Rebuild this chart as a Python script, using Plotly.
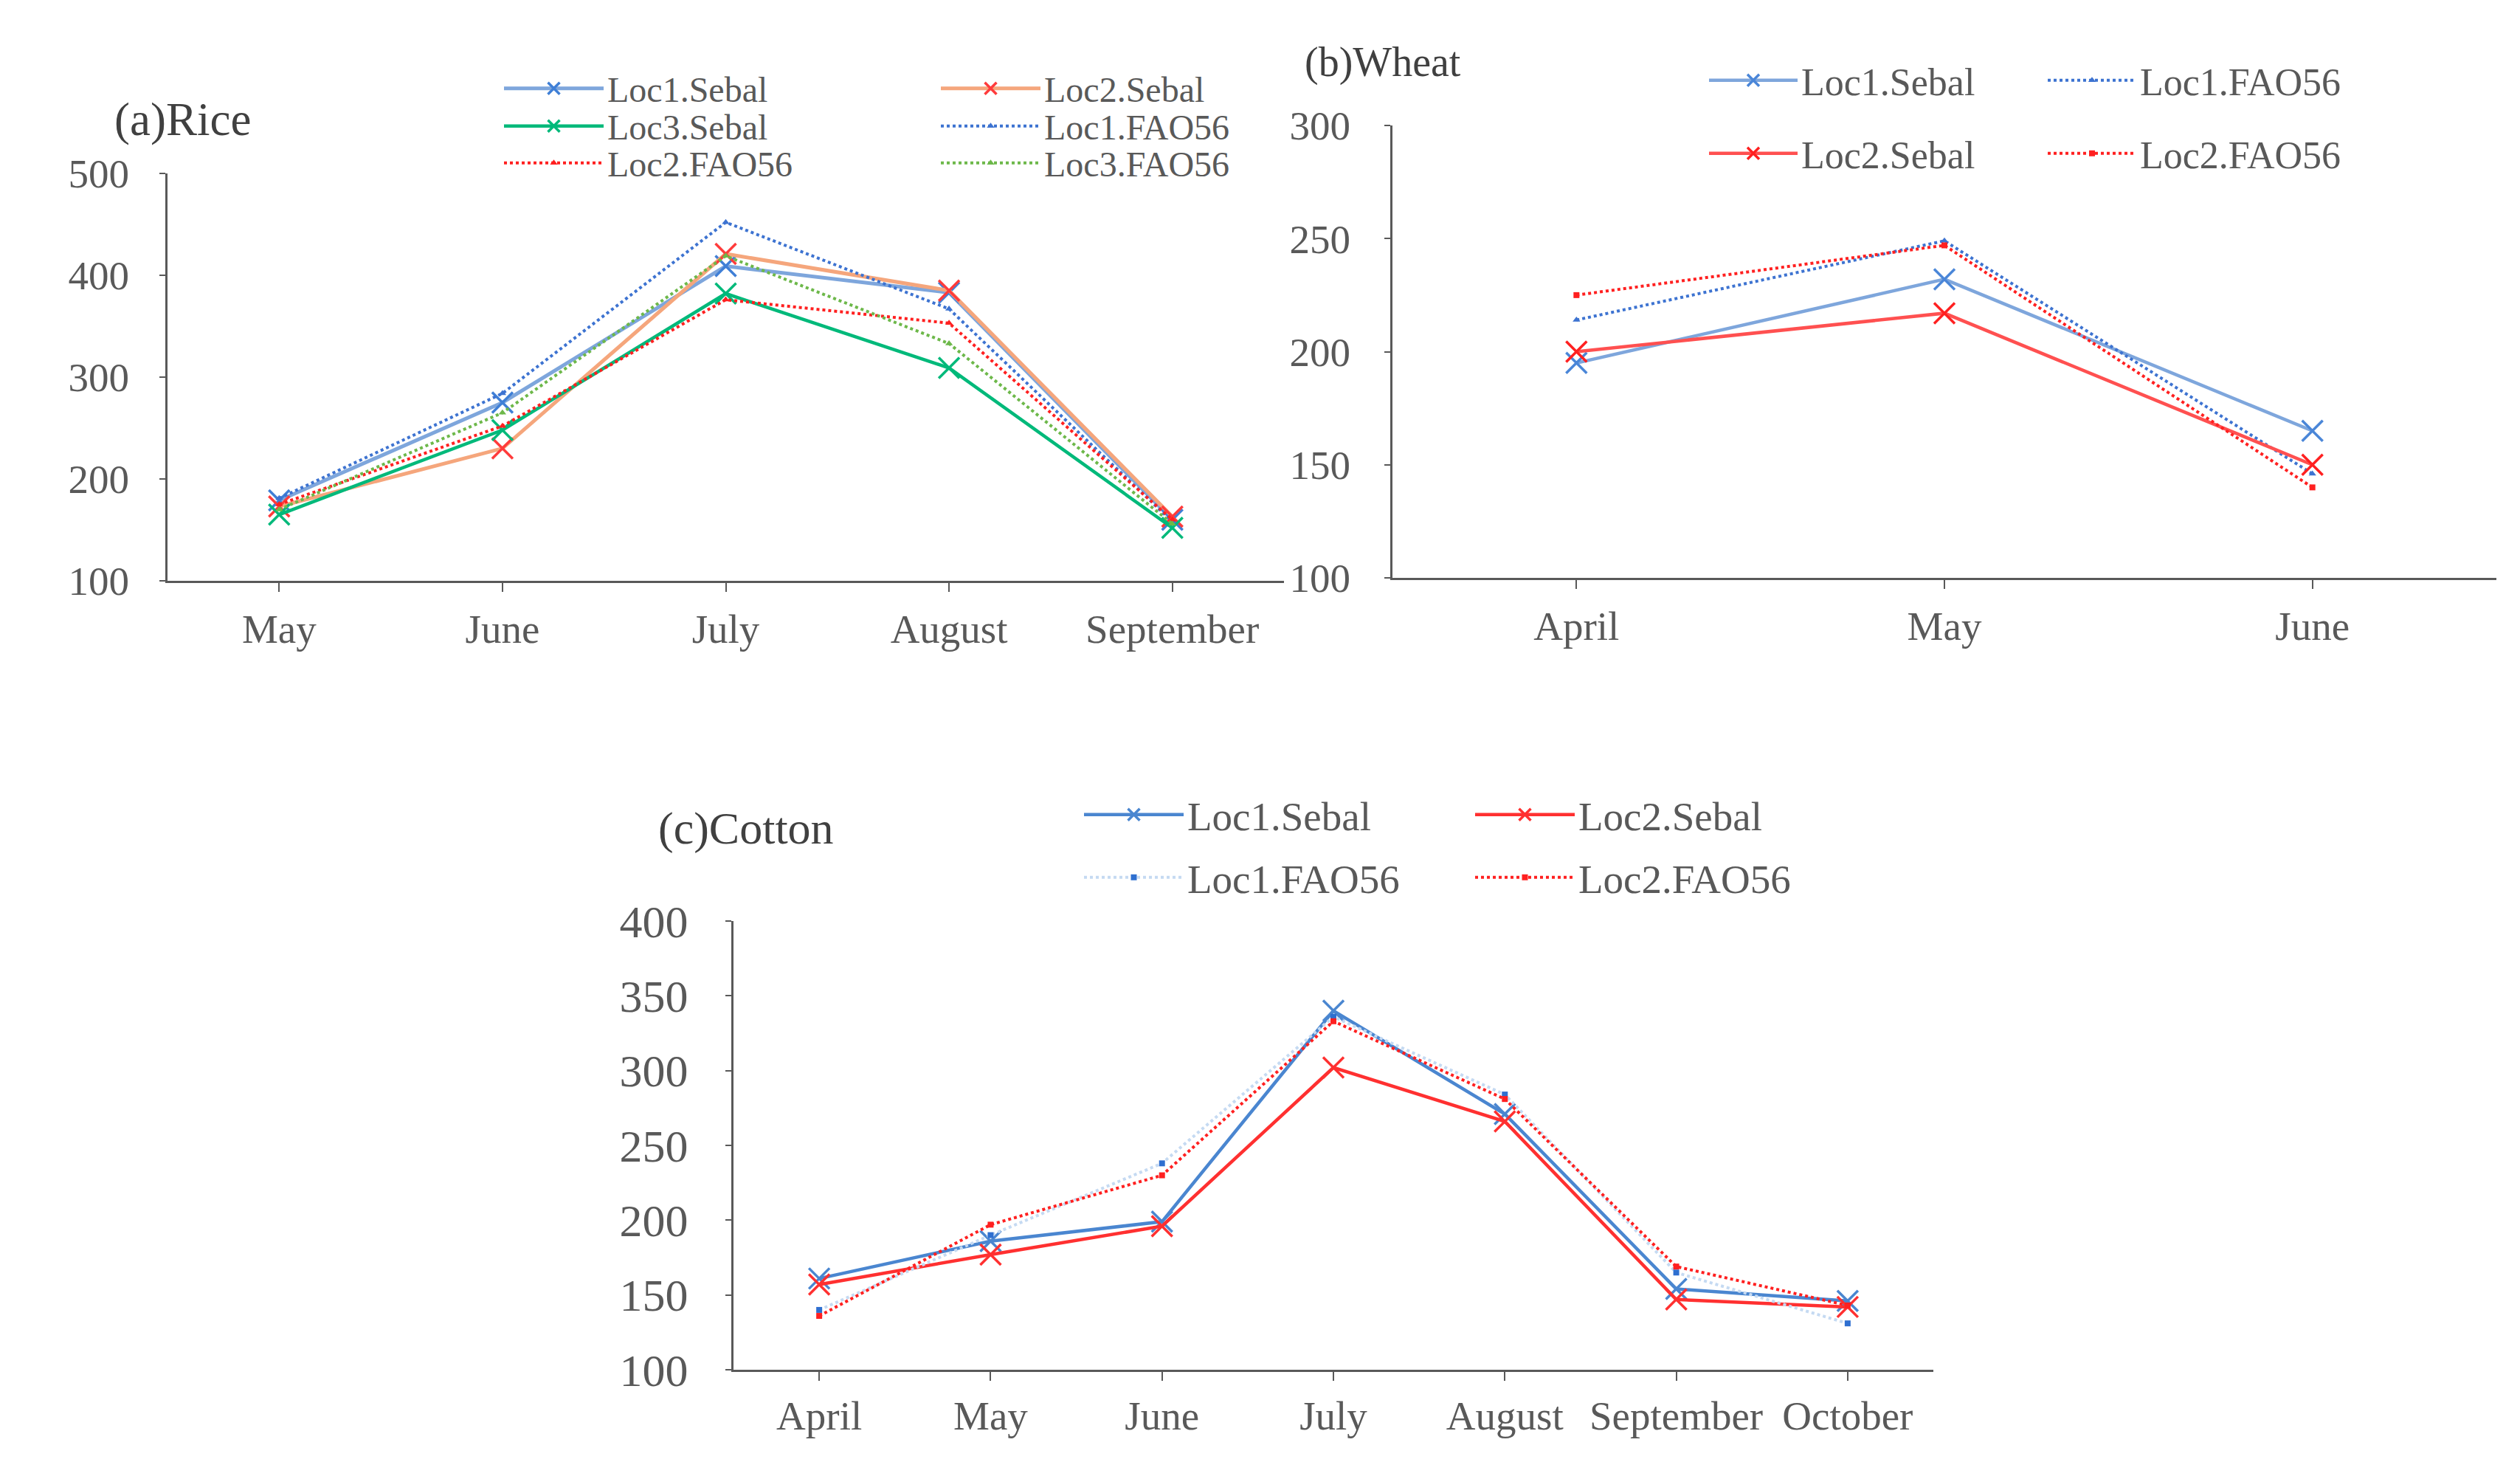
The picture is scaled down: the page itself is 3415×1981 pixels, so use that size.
import plotly.graph_objects as go

# ---------------- data ----------------
months_rice = ["May", "June", "July", "August", "September"]
rice_loc1_sebal = [179, 275, 409, 383, 160]
rice_loc2_sebal = [173, 230, 421, 385, 163]
rice_loc3_sebal = [165, 248, 382, 309, 152]
rice_loc1_fao56 = [181, 284, 452, 367, 158]
rice_loc2_fao56 = [175, 252, 376, 353, 160]
rice_loc3_fao56 = [170, 265, 419, 333, 156]

months_wheat = ["April", "May", "June"]
wheat_loc1_sebal = [195, 232, 165]
wheat_loc2_sebal = [200, 217, 150]
wheat_loc1_fao56 = [214, 249, 146]
wheat_loc2_fao56 = [225, 247, 140]

months_cotton = ["April", "May", "June", "July", "August", "September", "October"]
cotton_loc1_sebal = [161, 186, 199, 340, 271, 154, 146]
cotton_loc2_sebal = [157, 177, 196, 302, 266, 147, 142]
cotton_loc1_fao56 = [140, 190, 238, 336, 284, 165, 131]
cotton_loc2_fao56 = [136, 197, 230, 333, 281, 169, 143]

W, H = 3415, 1981
PAD = 8  # browser body margin
FW, FH = W - 2 * PAD, H - 2 * PAD
FONT = "Liberation Serif"
GRAY = "#595959"

fig = go.Figure()


def sebal(x, y, name, line_color, marker_color, xa, ya, legend, width=4.5, msize=28):
    fig.add_trace(go.Scatter(
        x=x, y=y, name=name, mode="lines+markers", xaxis=xa, yaxis=ya, legend=legend,
        line=dict(color=line_color, width=width),
        marker=dict(symbol="x-thin", size=msize, color=marker_color,
                    line=dict(color=marker_color, width=3.5)),
    ))


def fao(x, y, name, line_color, marker_color, xa, ya, legend, width=4, msize=9, symbol="triangle-up"):
    fig.add_trace(go.Scatter(
        x=x, y=y, name=name, mode="lines+markers", xaxis=xa, yaxis=ya, legend=legend,
        line=dict(color=line_color, width=width, dash="dot"),
        marker=dict(symbol=symbol, size=msize, color=marker_color),
    ))


# (a) Rice
sebal(months_rice, rice_loc1_sebal, "Loc1.Sebal", "#7EA6DC", "#3F7FD6", "x", "y", "legend", width=5)
sebal(months_rice, rice_loc2_sebal, "Loc2.Sebal", "#F5A67C", "#FF3B3B", "x", "y", "legend", width=5)
sebal(months_rice, rice_loc3_sebal, "Loc3.Sebal", "#00B97A", "#00B97A", "x", "y", "legend2")
fao(months_rice, rice_loc1_fao56, "Loc1.FAO56", "#3D73D1", "#3D73D1", "x", "y", "legend2")
fao(months_rice, rice_loc2_fao56, "Loc2.FAO56", "#FF2020", "#FF2020", "x", "y", "legend3")
fao(months_rice, rice_loc3_fao56, "Loc3.FAO56", "#6DB84A", "#6DB84A", "x", "y", "legend3")

# (b) Wheat
sebal(months_wheat, wheat_loc1_sebal, "Loc1.Sebal", "#7EA6DC", "#4A86D8", "x2", "y2", "legend4")
fao(months_wheat, wheat_loc1_fao56, "Loc1.FAO56", "#3D73D1", "#3D73D1", "x2", "y2", "legend4")
sebal(months_wheat, wheat_loc2_sebal, "Loc2.Sebal", "#FF5050", "#FF2020", "x2", "y2", "legend5")
fao(months_wheat, wheat_loc2_fao56, "Loc2.FAO56", "#FF2020", "#FF2020", "x2", "y2", "legend5",
    symbol="square", msize=8)

# (c) Cotton
sebal(months_cotton, cotton_loc1_sebal, "Loc1.Sebal", "#4A86D0", "#4A86D0", "x3", "y3", "legend6")
sebal(months_cotton, cotton_loc2_sebal, "Loc2.Sebal", "#FF3030", "#FF3030", "x3", "y3", "legend6")
fao(months_cotton, cotton_loc1_fao56, "Loc1.FAO56", "#C5DAF2", "#2E6FD0", "x3", "y3", "legend7",
    symbol="square", msize=8)
fao(months_cotton, cotton_loc2_fao56, "Loc2.FAO56", "#FF2020", "#FF2020", "x3", "y3", "legend7",
    symbol="square", msize=8)


def xaxis(domain, anchor, cats, size, standoff=3):
    return dict(domain=domain, anchor=anchor, type="category", categoryarray=cats,
                range=[-0.5, len(cats) - 0.5], showline=True, linecolor=GRAY,
                linewidth=3, ticks="outside", ticklen=12, tickwidth=2, tickcolor=GRAY,
                showgrid=False, zeroline=False, ticklabelstandoff=standoff, automargin=False,
                tickfont=dict(family=FONT, size=size, color=GRAY))


def yaxis(domain, anchor, rng, dtick, size, standoff):
    return dict(domain=domain, anchor=anchor, range=rng, dtick=dtick, showline=True,
                linecolor=GRAY, linewidth=3, ticks="outside", ticklen=8, tickwidth=2,
                tickcolor=GRAY, showgrid=False, zeroline=False, ticklabelstandoff=standoff,
                automargin=False, tickfont=dict(family=FONT, size=size, color=GRAY))


def px(v):
    return (v - PAD) / FW


def py(v):
    return 1 - (v - PAD) / FH


def legend(xpix, ypix, size, entrywidth, itemwidth=120):
    return dict(orientation="h", x=px(xpix), y=py(ypix), xanchor="left", yanchor="middle",
                bgcolor="rgba(0,0,0,0)", borderwidth=0, itemwidth=itemwidth,
                entrywidth=entrywidth, entrywidthmode="pixels", tracegroupgap=0,
                font=dict(family=FONT, size=size, color=GRAY), itemclick=False)


fig.update_layout(
    width=FW, height=FH, margin=dict(l=0, r=0, t=0, b=0),
    paper_bgcolor="white", plot_bgcolor="white",
    xaxis=xaxis([px(227), px(1740)], "y", months_rice, 55),
    yaxis=yaxis([py(787), py(235)], "x", [100, 500], 100, 55, 30),
    xaxis2=xaxis([px(1887), px(3383)], "y2", months_wheat, 55),
    yaxis2=yaxis([py(783), py(170)], "x2", [100, 300], 50, 55, 35),
    xaxis3=xaxis([px(994), px(2620)], "y3", months_cotton, 55, 0),
    yaxis3=yaxis([py(1856), py(1248)], "x3", [100, 400], 50, 62, 38),
    legend=legend(678, 120, 48, 442, itemwidth=135),
    legend2=legend(678, 171, 48, 442, itemwidth=135),
    legend3=legend(678, 221, 48, 442, itemwidth=135),
    legend4=legend(2311, 109, 52, 324),
    legend5=legend(2311, 208, 52, 324),
    legend6=legend(1464, 1104, 55, 380, itemwidth=135),
    legend7=legend(1464, 1189, 55, 380, itemwidth=135),
    showlegend=True,
    annotations=[
        dict(text="(a)Rice", x=px(153), y=py(162), xref="paper", yref="paper",
             xanchor="left", yanchor="middle", showarrow=False,
             font=dict(family=FONT, size=63, color="#404040")),
        dict(text="(b)Wheat", x=px(1766), y=py(84), xref="paper", yref="paper",
             xanchor="left", yanchor="middle", showarrow=False,
             font=dict(family=FONT, size=56, color="#404040")),
        dict(text="(c)Cotton", x=px(890), y=py(1122), xref="paper", yref="paper",
             xanchor="left", yanchor="middle", showarrow=False,
             font=dict(family=FONT, size=62, color="#404040")),
    ],
)

fig.write_html("out.html")
